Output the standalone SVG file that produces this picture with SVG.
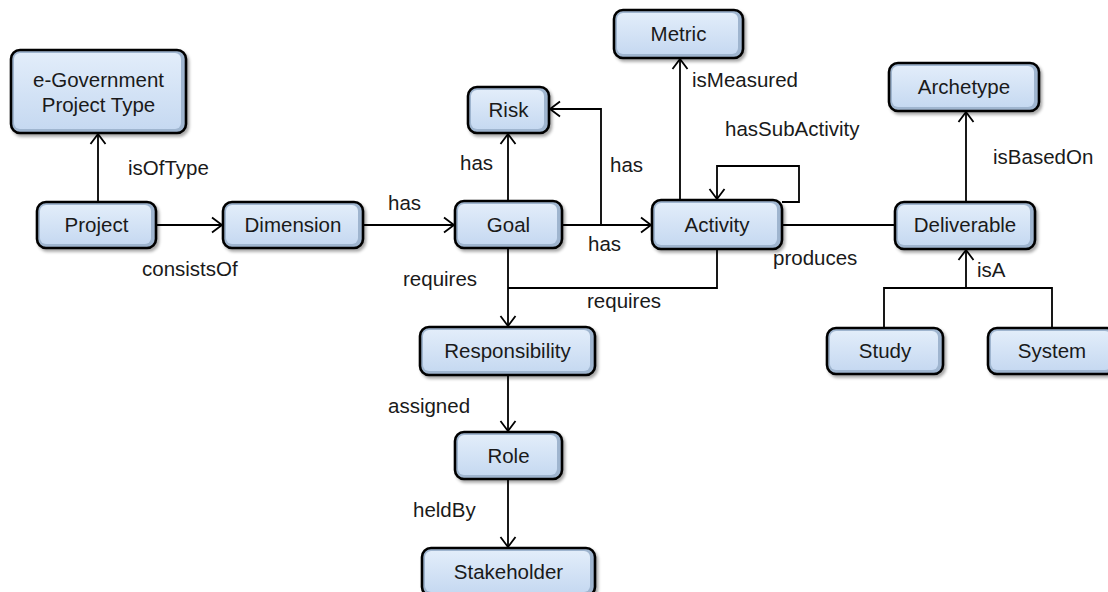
<svg xmlns="http://www.w3.org/2000/svg" width="1108" height="592" viewBox="0 0 1108 592">
  <defs>
    <linearGradient id="face" x1="0" y1="0" x2="0" y2="1">
      <stop offset="0" stop-color="#e2edfa"/>
      <stop offset="1" stop-color="#c6d9f1"/>
    </linearGradient>
    <filter id="shadow" x="-10%" y="-20%" width="130%" height="150%">
      <feDropShadow dx="2" dy="2.5" stdDeviation="1.5" flood-color="#000" flood-opacity="0.35"/>
    </filter>
    <marker id="arrow" markerUnits="userSpaceOnUse" markerWidth="14" markerHeight="18" refX="11" refY="9" orient="auto" viewBox="0 0 14 18">
      <path d="M1,1.5 L11,9 L1,16.5" fill="none" stroke="#000" stroke-width="1.8"/>
    </marker>
  </defs>
  <style>
    .box { fill: #9fb5cf; stroke: #000; stroke-width: 2.6; filter: url(#shadow); }
    .face { fill: url(#face); stroke: none; }
    .name { font-family: "Liberation Sans", Arial, sans-serif; font-size: 20.5px; fill: #1a1a1a; text-anchor: middle; }
    .lbl { font-family: "Liberation Sans", Arial, sans-serif; font-size: 20.5px; fill: #1a1a1a; }
    .edge { fill: none; stroke: #000; stroke-width: 1.8; }
    .arr { marker-end: url(#arrow); }
  </style>

  <!-- connectors and their labels -->
  <g id="connectors">
    <path class="edge arr" d="M98,202 V134"/>
    <path class="edge arr" d="M156,225 H222"/>
    <path class="edge arr" d="M363,225 H454"/>
    <path class="edge arr" d="M508,201 V134"/>
    <path class="edge arr" d="M562,225 H651"/>
    <path class="edge arr" d="M601,225 V109 H550"/>
    <path class="edge arr" d="M680,200 V59"/>
    <path class="edge arr" d="M782,202 H799 V166 H717 V199"/>
    <path class="edge" d="M782,225 H895"/>
    <path class="edge arr" d="M966,202 V112"/>
    <path class="edge" d="M884,328 V288 H1052 V328"/>
    <path class="edge arr" d="M966,288 V250"/>
    <path class="edge arr" d="M508,248 V326"/>
    <path class="edge" d="M717,249 V288 H508"/>
    <path class="edge arr" d="M508,375 V431"/>
    <path class="edge arr" d="M508,479 V547"/>

    <text class="lbl" x="128" y="175">isOfType</text>
    <text class="lbl" x="142" y="276">consistsOf</text>
    <text class="lbl" x="388" y="210">has</text>
    <text class="lbl" x="460" y="170">has</text>
    <text class="lbl" x="610" y="172">has</text>
    <text class="lbl" x="588" y="251">has</text>
    <text class="lbl" x="692" y="87">isMeasured</text>
    <text class="lbl" x="725" y="136">hasSubActivity</text>
    <text class="lbl" x="993" y="164">isBasedOn</text>
    <text class="lbl" x="773" y="265">produces</text>
    <text class="lbl" x="977" y="277">isA</text>
    <text class="lbl" x="403" y="286">requires</text>
    <text class="lbl" x="587" y="308">requires</text>
    <text class="lbl" x="388" y="413">assigned</text>
    <text class="lbl" x="413" y="517">heldBy</text>
  </g>

  <!-- nodes -->
  <g id="egov">
    <rect class="box" x="11" y="50" width="175" height="83" rx="9"/>
    <rect class="face" x="14" y="53" width="167" height="76" rx="6"/>
    <text class="name" x="98.5" y="87">e-Government</text>
    <text class="name" x="98.5" y="112">Project Type</text>
  </g>
  <g id="project">
    <rect class="box" x="37" y="202" width="119" height="46" rx="9"/>
    <rect class="face" x="40" y="205" width="111" height="39" rx="6"/>
    <text class="name" x="96.5" y="232">Project</text>
  </g>
  <g id="dimension">
    <rect class="box" x="223" y="202" width="140" height="46" rx="9"/>
    <rect class="face" x="226" y="205" width="132" height="39" rx="6"/>
    <text class="name" x="293" y="232">Dimension</text>
  </g>
  <g id="goal">
    <rect class="box" x="455" y="201" width="107" height="47" rx="9"/>
    <rect class="face" x="458" y="204" width="99" height="40" rx="6"/>
    <text class="name" x="508.5" y="232">Goal</text>
  </g>
  <g id="risk">
    <rect class="box" x="468" y="87" width="81" height="46" rx="9"/>
    <rect class="face" x="471" y="90" width="73" height="39" rx="6"/>
    <text class="name" x="508.5" y="117">Risk</text>
  </g>
  <g id="activity">
    <rect class="box" x="652" y="200" width="130" height="49" rx="9"/>
    <rect class="face" x="655" y="203" width="122" height="42" rx="6"/>
    <text class="name" x="717" y="232">Activity</text>
  </g>
  <g id="metric">
    <rect class="box" x="614" y="10" width="129" height="48" rx="9"/>
    <rect class="face" x="617" y="13" width="121" height="41" rx="6"/>
    <text class="name" x="678.5" y="41">Metric</text>
  </g>
  <g id="archetype">
    <rect class="box" x="889" y="63" width="150" height="48" rx="9"/>
    <rect class="face" x="892" y="66" width="142" height="41" rx="6"/>
    <text class="name" x="964" y="94">Archetype</text>
  </g>
  <g id="deliverable">
    <rect class="box" x="895" y="202" width="140" height="47" rx="9"/>
    <rect class="face" x="898" y="205" width="132" height="40" rx="6"/>
    <text class="name" x="965" y="232">Deliverable</text>
  </g>
  <g id="study">
    <rect class="box" x="827" y="328" width="116" height="46" rx="9"/>
    <rect class="face" x="830" y="331" width="108" height="39" rx="6"/>
    <text class="name" x="885" y="358">Study</text>
  </g>
  <g id="system">
    <rect class="box" x="988" y="328" width="128" height="46" rx="9"/>
    <rect class="face" x="991" y="331" width="120" height="39" rx="6"/>
    <text class="name" x="1052" y="358">System</text>
  </g>
  <g id="responsibility">
    <rect class="box" x="420" y="327" width="175" height="48" rx="9"/>
    <rect class="face" x="423" y="330" width="167" height="41" rx="6"/>
    <text class="name" x="507.5" y="358">Responsibility</text>
  </g>
  <g id="role">
    <rect class="box" x="455" y="432" width="107" height="47" rx="9"/>
    <rect class="face" x="458" y="435" width="99" height="40" rx="6"/>
    <text class="name" x="508.5" y="463">Role</text>
  </g>
  <g id="stakeholder">
    <rect class="box" x="422" y="548" width="173" height="48" rx="9"/>
    <rect class="face" x="425" y="551" width="165" height="41" rx="6"/>
    <text class="name" x="508.5" y="579">Stakeholder</text>
  </g>
</svg>
